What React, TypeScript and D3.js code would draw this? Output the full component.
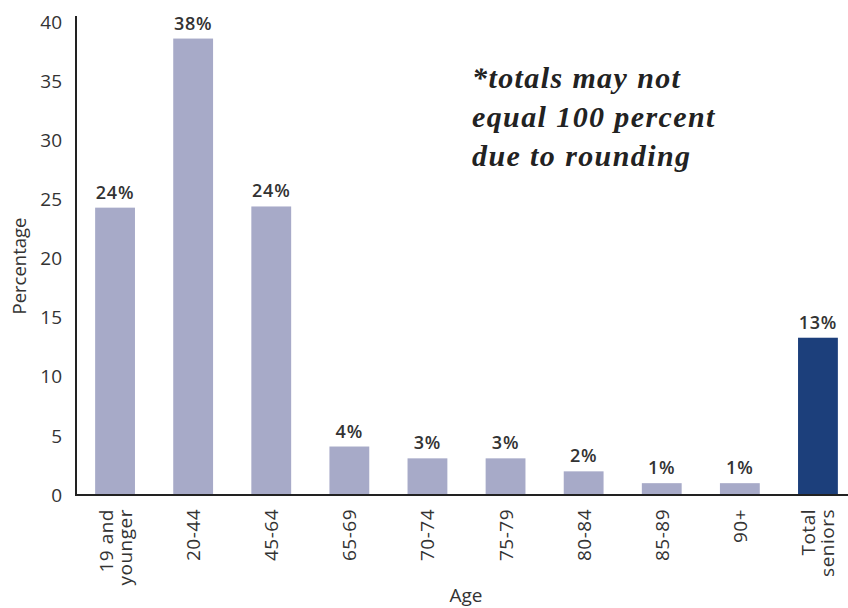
import React from "react";
import * as d3 from "d3";

const categories = ["19 and younger", "20-44", "45-64", "65-69", "70-74", "75-79", "80-84", "85-89", "90+", "Total seniors"];
const values = [24.3, 38.6, 24.4, 4.1, 3.1, 3.1, 2.0, 1.0, 1.0, 13.3];
const valueLabels = ["24%", "38%", "24%", "4%", "3%", "3%", "2%", "1%", "1%", "13%"];
const categoryLines = [["19 and", "younger"], ["20-44"], ["45-64"], ["65-69"], ["70-74"], ["75-79"], ["80-84"], ["85-89"], ["90+"], ["Total", "seniors"]];
const yTicks = [0, 5, 10, 15, 20, 25, 30, 35, 40];
const noteLines = ["*totals may not", "equal 100 percent", "due to rounding"];

const W = 848, H = 608;
const FONT = "'Open Sans', 'DejaVu Sans', sans-serif";

export default function App() {
  const x = d3.scaleBand<string>().domain(categories).range([76, 857]).paddingInner(0.49).paddingOuter(0.245);
  const y = d3.scaleLinear().domain([0, 40]).range([495, 22]);
  const base = y(0);
  return (
    <svg width={W} height={H} style={{ position: "absolute", left: 0, top: 0, background: "#fff" }} fontFamily={FONT}>
      {categories.map((c, i) => (
        <rect key={c} x={x(c)} y={y(values[i])} width={x.bandwidth()} height={base - y(values[i])}
          fill={i === categories.length - 1 ? "#1c3f7b" : "#a7aac8"} />
      ))}
      {categories.map((c, i) => (
        <text key={"v" + c} x={(x(c) as number) + x.bandwidth() / 2} y={y(values[i]) - 9} textAnchor="middle"
          fontSize={18} fontWeight={600} letterSpacing={0.8} fill="#333">{valueLabels[i]}</text>
      ))}
      <line x1={76} x2={76} y1={16} y2={base} stroke="#222" strokeWidth={2} />
      <line x1={75} x2={W} y1={base} y2={base} stroke="#222" strokeWidth={2} />
      {yTicks.map(t => (
        <text key={t} x={62} y={y(t)} dy="0.35em" textAnchor="end" fontSize={19} fill="#333">{t}</text>
      ))}
      <text transform={`translate(26,266) rotate(-90)`} textAnchor="middle" fontSize={18.5} fill="#333">Percentage</text>
      {categories.map((c, i) => {
        const cx = (x(c) as number) + x.bandwidth() / 2;
        const lines = categoryLines[i];
        const lh = 19;
        return lines.map((ln, j) => (
          <text key={c + j} transform={`translate(${cx + (j - (lines.length - 1) / 2) * lh + 7},${base + 14}) rotate(-90)`}
            textAnchor="end" fontSize={19} letterSpacing={0.5} fill="#333">{ln}</text>
        ));
      })}
      <text x={466} y={602} textAnchor="middle" fontSize={19} fill="#333">Age</text>
      {noteLines.map((l, i) => (
        <text key={l} x={472} y={88 + i * 39} fontFamily="'Liberation Serif', 'DejaVu Serif', serif" fontStyle="italic"
          fontWeight="bold" fontSize={30} letterSpacing={1.4} fill="#222">{l}</text>
      ))}
    </svg>
  );
}
